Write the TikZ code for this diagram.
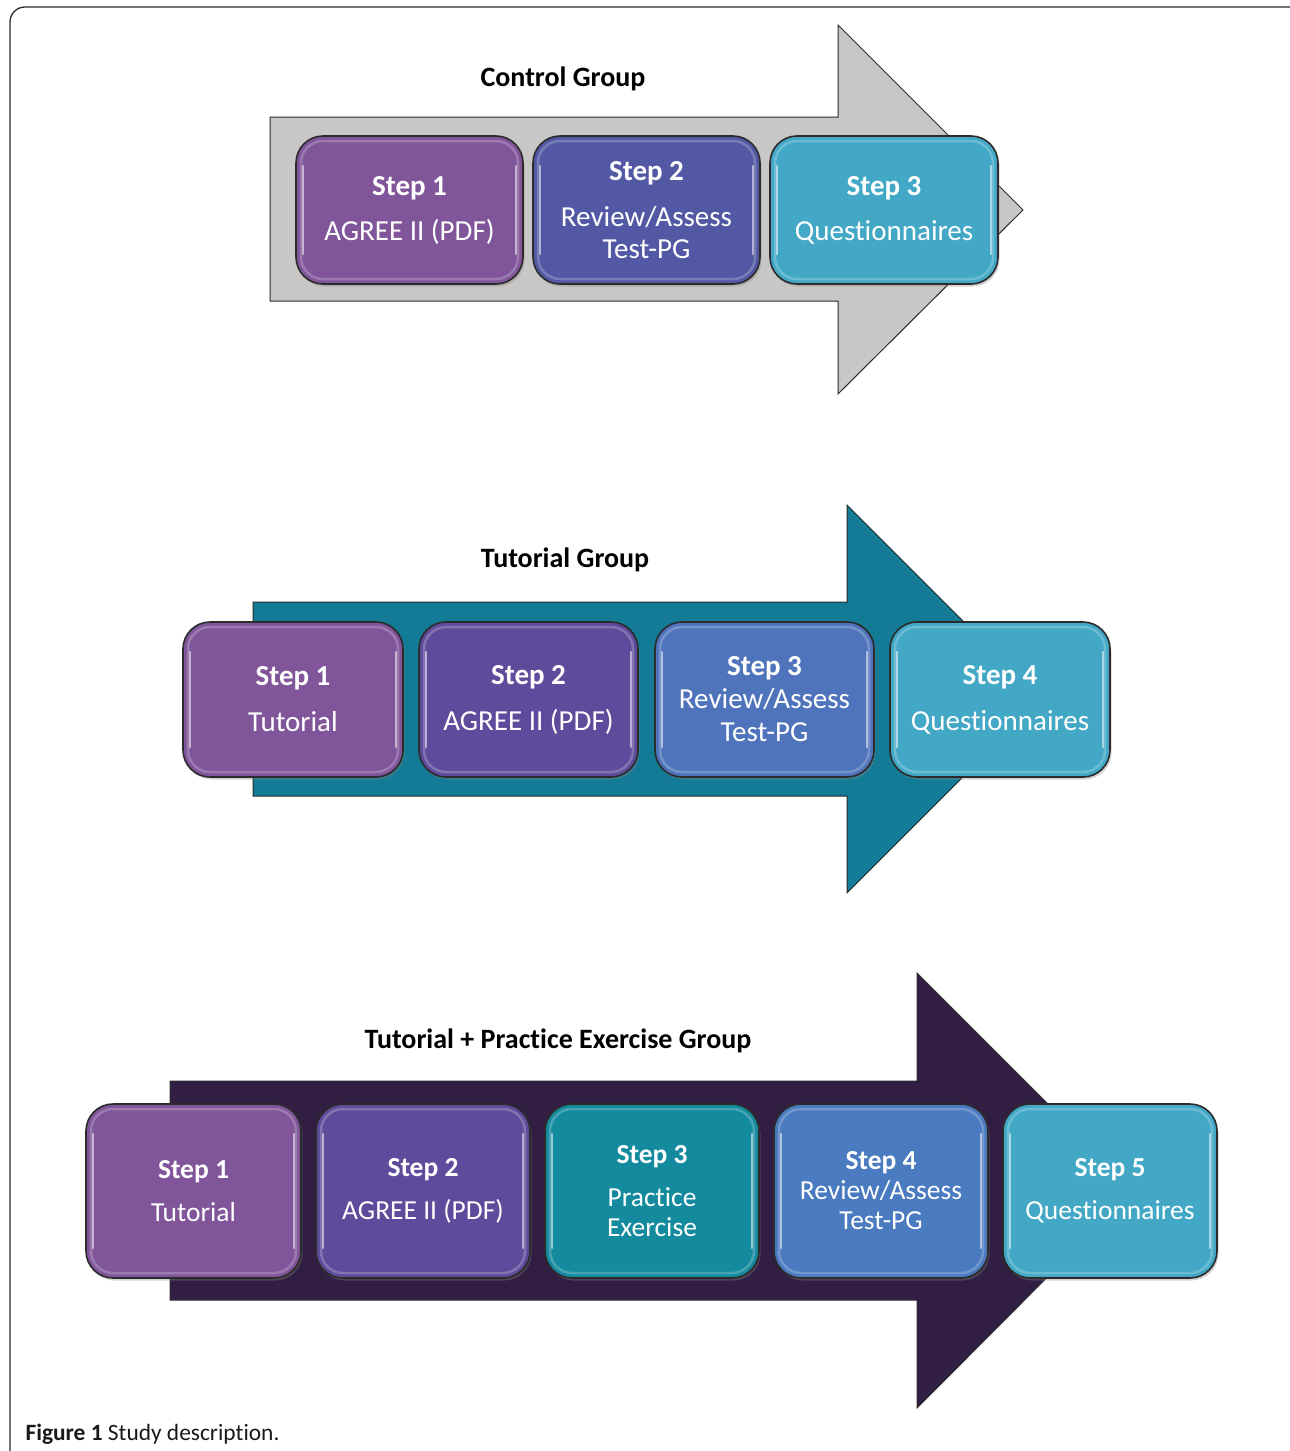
\documentclass[tikz,border=0pt]{standalone}
\usepackage{fontspec}
\setmainfont{Carlito}[Ligatures=NoCommon]
\usetikzlibrary{shadows}
\definecolor{cPurple}{HTML}{80559A}
\definecolor{cIndigo}{HTML}{5258A4}
\definecolor{cCyan}{HTML}{42A8C6}
\definecolor{cViolet}{HTML}{5E4B9B}
\definecolor{cBlue}{HTML}{4F74BC}
\definecolor{cBlueB}{HTML}{4A7BC0}
\definecolor{cTealBox}{HTML}{148A9F}
\definecolor{cGrayArrow}{HTML}{C8C7C6}
\definecolor{cTealArrow}{HTML}{137B96}
\definecolor{cDarkArrow}{HTML}{331E43}
\definecolor{cEdge}{HTML}{2B2B2B}
\tikzset{
  frameline/.style={draw=cEdge, line width=1.3pt},
  bigarrow/.style={draw=cEdge, line width=1pt},
  grouptitle/.style={font=\bfseries\fontsize{28}{32}\selectfont, text=black},
  stepbox/.style={draw=cEdge, line width=1.6pt, rounded corners=27pt, inner sep=0pt,
    text=white, align=center,
    drop shadow={opacity=0.35, shadow xshift=1.5pt, shadow yshift=-2.5pt},
    path picture={
      \draw[white, opacity=0.22, line width=2.5pt, rounded corners=22pt]
        ([shift={(5pt,-5pt)}]path picture bounding box.north west) rectangle
        ([shift={(-5pt,5pt)}]path picture bounding box.south east);
      \draw[white, opacity=0.55, line width=2.5pt, line cap=round]
        ([shift={(7pt,-30pt)}]path picture bounding box.north west) --
        ([shift={(7pt,30pt)}]path picture bounding box.south west);
      \draw[white, opacity=0.55, line width=2.5pt, line cap=round]
        ([shift={(-7pt,-30pt)}]path picture bounding box.north east) --
        ([shift={(-7pt,30pt)}]path picture bounding box.south east);
    }},
  bigtxt/.style={font=\fontsize{29}{32}\selectfont},
  smalltxt/.style={font=\fontsize{27.5}{30}\selectfont},
  caption/.style={font=\fontsize{23.4}{27}\selectfont, anchor=west, text=black!90}
}
\begin{document}
\begin{tikzpicture}[x=1pt,y=-1pt]
\useasboundingbox (0,0) rectangle (1290,1451);
\begin{scope}
\clip (0,0) rectangle (1290,1451);
\draw[frameline, rounded corners=15pt] (10,7) rectangle (1310,1490);
\end{scope}

% ---------------- Control group ----------------
\draw[bigarrow, fill=cGrayArrow] (270,117) -- (838,117) -- (838,25) -- (1023,210)
  -- (838,394) -- (838,301) -- (270,301) -- cycle;
\node[grouptitle] (t1) at (563,79) {Control Group};
\node[stepbox, bigtxt, fill=cPurple, minimum width=227pt, minimum height=148pt] (c1) at (409.5,210)
  {\textbf{Step 1}\\[13pt]AGREE II (PDF)};
\node[stepbox, bigtxt, fill=cIndigo, minimum width=227pt, minimum height=148pt] (c2) at (646.5,210)
  {\textbf{Step 2}\\[14pt]Review/Assess\\Test-PG};
\node[stepbox, bigtxt, fill=cCyan, minimum width=228pt, minimum height=148pt] (c3) at (884,210)
  {\textbf{Step 3}\\[13pt]Questionnaires};

% ---------------- Tutorial group ----------------
\draw[bigarrow, fill=cTealArrow] (253,602) -- (847,602) -- (847,505) -- (1041,699)
  -- (847,893) -- (847,796) -- (253,796) -- cycle;
\node[grouptitle] (t2) at (565,560) {Tutorial Group};
\node[stepbox, bigtxt, fill=cPurple, minimum width=220pt, minimum height=155pt] (u1) at (293,699.5)
  {\textbf{Step 1}\\[14pt]Tutorial};
\node[stepbox, bigtxt, fill=cViolet, minimum width=219pt, minimum height=155pt] (u2) at (528.5,699.5)
  {\textbf{Step 2}\\[14pt]AGREE II (PDF)};
\node[stepbox, bigtxt, fill=cBlue, minimum width=219pt, minimum height=155pt] (u3) at (764.5,699.5)
  {\textbf{Step 3}\\[1pt]Review/Assess\\[1pt]Test-PG};
\node[stepbox, bigtxt, fill=cCyan, minimum width=220pt, minimum height=155pt] (u4) at (1000,699.5)
  {\textbf{Step 4}\\[14pt]Questionnaires};

% ---------------- Tutorial + Practice group ----------------
\draw[bigarrow, fill=cDarkArrow] (170,1081) -- (917,1081) -- (917,973) -- (1134,1190)
  -- (917,1408) -- (917,1300) -- (170,1300) -- cycle;
\node[grouptitle] (t3) at (558,1041) {Tutorial + Practice Exercise Group};
\node[stepbox, smalltxt, fill=cPurple, minimum width=215pt, minimum height=174pt] (p1) at (193.5,1191)
  {\textbf{Step 1}\\[13pt]Tutorial};
\node[stepbox, smalltxt, fill=cViolet, minimum width=214pt, minimum height=174pt] (p2) at (423,1191)
  {\textbf{Step 2}\\[13pt]AGREE II (PDF)};
\node[stepbox, smalltxt, fill=cTealBox, minimum width=214pt, minimum height=174pt] (p3) at (652,1191)
  {\textbf{Step 3}\\[13pt]Practice\\Exercise};
\node[stepbox, smalltxt, fill=cBlueB, minimum width=214pt, minimum height=174pt] (p4) at (881,1191)
  {\textbf{Step 4}\\Review/Assess\\Test-PG};
\node[stepbox, smalltxt, fill=cCyan, minimum width=214pt, minimum height=174pt] (p5) at (1110,1191)
  {\textbf{Step 5}\\[13pt]Questionnaires};

% ---------------- Caption ----------------
\node[caption] (cap) at (22,1434) {\textbf{Figure 1} Study description.};
\end{tikzpicture}
\end{document}
